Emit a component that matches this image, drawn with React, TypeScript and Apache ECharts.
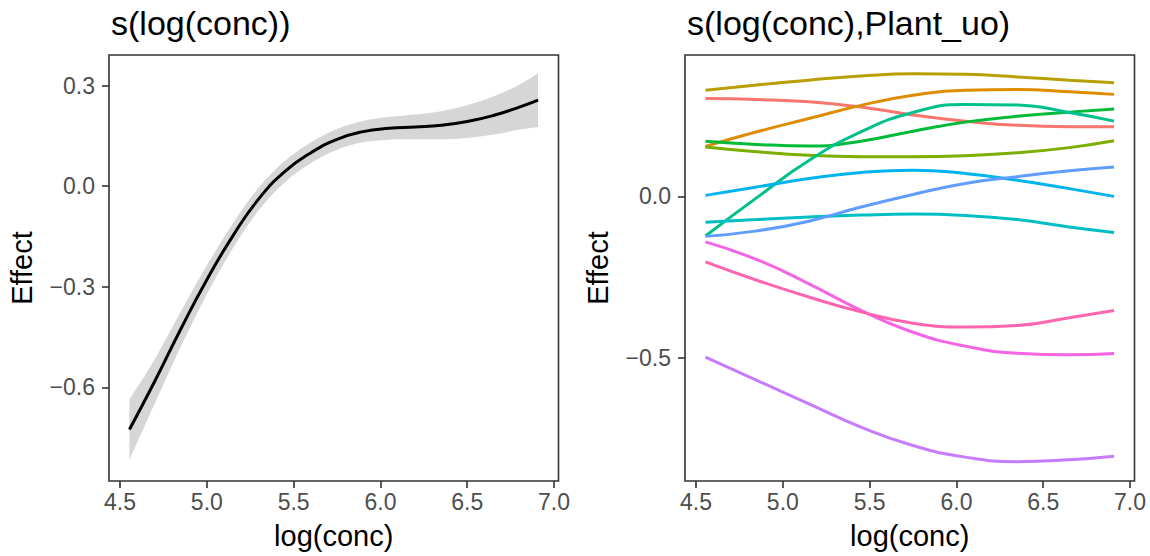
import React, { useEffect, useRef } from "react";
import * as echarts from "echarts";

// ---------- Data ----------
const panelTitles = ["s(log(conc))", "s(log(conc),Plant_uo)"];
const xTicks = [4.5, 5.0, 5.5, 6.0, 6.5, 7.0];
const yTicksLeft = [-0.6, -0.3, 0.0, 0.3];
const yTicksRight = [-0.5, 0.0];

// left panel: overall smooth with confidence band
const logConcGrid = [4.554, 4.7, 4.85, 5.0, 5.15, 5.3, 5.45, 5.6, 5.75, 5.9, 6.05, 6.2, 6.35, 6.5, 6.65, 6.8, 6.908];
const fitValues = [-0.726, -0.582, -0.426, -0.279, -0.148, -0.037, 0.044, 0.1, 0.14, 0.163, 0.173, 0.177, 0.182, 0.193, 0.211, 0.236, 0.257];
const lowerValues = [-0.816, -0.648, -0.478, -0.322, -0.185, -0.071, 0.012, 0.069, 0.109, 0.131, 0.139, 0.14, 0.14, 0.144, 0.154, 0.169, 0.177];
const upperValues = [-0.636, -0.516, -0.374, -0.236, -0.111, -0.003, 0.076, 0.131, 0.171, 0.195, 0.207, 0.214, 0.224, 0.242, 0.268, 0.303, 0.337];

// right panel: per-plant smooths
const plantGrid = [4.554, 4.85, 5.15, 5.45, 5.75, 6.05, 6.35, 6.65, 6.908];
const plantNames = ["Qn1", "Qn2", "Qn3", "Qc1", "Qc3", "Qc2", "Mn3", "Mn2", "Mn1", "Mc2", "Mc3", "Mc1"];
const plantColors = ["#F8766D", "#DE8C00", "#B79F00", "#7CAE00", "#00BA38", "#00C08B", "#00BFC4", "#00B4F0", "#619CFF", "#C77CFF", "#F564E3", "#FF64B0"];
const plant0 = [0.303, 0.3, 0.293, 0.277, 0.252, 0.233, 0.22, 0.216, 0.216];
const plant1 = [0.155, 0.2, 0.241, 0.282, 0.313, 0.329, 0.331, 0.324, 0.316];
const plant2 = [0.329, 0.345, 0.36, 0.373, 0.38, 0.378, 0.37, 0.36, 0.352];
const plant3 = [0.153, 0.138, 0.127, 0.123, 0.123, 0.126, 0.135, 0.151, 0.172];
const plant4 = [0.171, 0.161, 0.156, 0.171, 0.202, 0.23, 0.248, 0.261, 0.271];
const plant5 = [-0.123, -0.004, 0.111, 0.2, 0.26, 0.285, 0.283, 0.26, 0.233];
const plant6 = [-0.08, -0.072, -0.064, -0.058, -0.055, -0.059, -0.072, -0.095, -0.112];
const plant7 = [0.003, 0.029, 0.055, 0.074, 0.081, 0.071, 0.05, 0.024, 0.0];
const plant8 = [-0.124, -0.107, -0.077, -0.033, 0.006, 0.04, 0.061, 0.079, 0.091];
const plant9 = [-0.498, -0.57, -0.643, -0.715, -0.772, -0.808, -0.822, -0.816, -0.805];
const plant10 = [-0.141, -0.196, -0.271, -0.353, -0.421, -0.464, -0.486, -0.491, -0.487];
const plant11 = [-0.203, -0.26, -0.312, -0.358, -0.393, -0.405, -0.4, -0.376, -0.354];
const plantValues = [plant0, plant1, plant2, plant3, plant4, plant5, plant6, plant7, plant8, plant9, plant10, plant11];

const FONT = "'Liberation Sans', Arial, Helvetica, sans-serif";

const fmt = (v: number) => (v < 0 ? "\u2212" : "") + Math.abs(v).toFixed(1);

function makeXAxis(gridIndex: number) {
  return {
    type: "value",
    gridIndex,
    min: 4.4363,
    max: 7.0257,
    axisLine: { show: false, onZero: false },
    splitLine: { show: false },
    axisTick: { show: true, customValues: xTicks, length: 7, lineStyle: { color: "#333333", width: 1.6 } },
    axisLabel: { customValues: xTicks, formatter: fmt, fontSize: 23, color: "#4D4D4D", margin: 9, fontFamily: FONT },
    name: "log(conc)",
    nameLocation: "middle",
    nameGap: 40,
    nameTextStyle: { fontSize: 29, color: "#000000", fontFamily: FONT },
  };
}

function makeYAxis(gridIndex: number, min: number, max: number, ticks: number[]) {
  return {
    type: "value",
    gridIndex,
    min,
    max,
    axisLine: { show: false, onZero: false },
    splitLine: { show: false },
    axisTick: { show: true, customValues: ticks, length: 7, lineStyle: { color: "#333333", width: 1.6 } },
    axisLabel: { customValues: ticks, formatter: fmt, fontSize: 23, color: "#4D4D4D", margin: 14, fontFamily: FONT },
    name: "Effect",
    nameLocation: "middle",
    nameRotate: 90,
    nameGap: 73,
    nameTextStyle: { fontSize: 29, color: "#000000", fontFamily: FONT },
  };
}

// Catmull-Rom style smooth path segment builder (drawing only)
function smoothSegments(pts: number[][]): string {
  let d = "";
  for (let i = 0; i < pts.length - 1; i++) {
    const p0 = pts[Math.max(0, i - 1)];
    const p1 = pts[i];
    const p2 = pts[i + 1];
    const p3 = pts[Math.min(pts.length - 1, i + 2)];
    const c1x = p1[0] + (p2[0] - p0[0]) / 6;
    const c1y = p1[1] + (p2[1] - p0[1]) / 6;
    const c2x = p2[0] - (p3[0] - p1[0]) / 6;
    const c2y = p2[1] - (p3[1] - p1[1]) / 6;
    d += ` C ${c1x} ${c1y} ${c2x} ${c2y} ${p2[0]} ${p2[1]}`;
  }
  return d;
}

export default function App() {
  const ref = useRef<HTMLDivElement>(null);

  useEffect(() => {
    if (!ref.current) return;
    const chart = echarts.init(ref.current, undefined, { renderer: "svg" });

    const pairs = (xs: number[], ys: number[]) => xs.map((x, i) => [x, ys[i]]);

    const series: any[] = [
      {
        type: "custom",
        name: "band",
        xAxisIndex: 0,
        yAxisIndex: 0,
        silent: true,
        clip: true,
        data: [[logConcGrid[0], lowerValues[0]]],
        renderItem: (_params: any, api: any) => {
          const up = logConcGrid.map((x, i) => api.coord([x, upperValues[i]]));
          const lo = logConcGrid.map((x, i) => api.coord([x, lowerValues[i]])).reverse();
          let d = `M ${up[0][0]} ${up[0][1]}` + smoothSegments(up);
          d += ` L ${lo[0][0]} ${lo[0][1]}` + smoothSegments(lo) + " Z";
          return { type: "path", shape: { pathData: d }, style: { fill: "#D6D6D6", stroke: "none" } };
        },
      },
      {
        type: "line",
        name: "fit",
        xAxisIndex: 0,
        yAxisIndex: 0,
        data: pairs(logConcGrid, fitValues),
        smooth: true,
        showSymbol: false,
        lineStyle: { width: 3, color: "#000000" },
        itemStyle: { color: "#000000" },
        z: 3,
      },
    ];

    plantValues.forEach((vals, i) => {
      series.push({
        type: "line",
        name: plantNames[i],
        xAxisIndex: 1,
        yAxisIndex: 1,
        data: pairs(plantGrid, vals),
        smooth: true,
        showSymbol: false,
        lineStyle: { width: 3, color: plantColors[i] },
        itemStyle: { color: plantColors[i] },
      });
    });

    chart.setOption({
      animation: false,
      backgroundColor: "#ffffff",
      textStyle: { fontFamily: FONT },
      title: [
        { text: panelTitles[0], left: 106, top: 1, textStyle: { fontSize: 34, fontWeight: "normal", color: "#000000", fontFamily: FONT } },
        { text: panelTitles[1], left: 682, top: 1, textStyle: { fontSize: 34, fontWeight: "normal", color: "#000000", fontFamily: FONT } },
      ],
      grid: [
        { left: 109, top: 55, width: 449.5, height: 426, show: true, borderColor: "#333333", borderWidth: 1.6, backgroundColor: "#ffffff", containLabel: false },
        { left: 685, top: 55, width: 449.5, height: 426, show: true, borderColor: "#333333", borderWidth: 1.6, backgroundColor: "#ffffff", containLabel: false },
      ],
      xAxis: [makeXAxis(0), makeXAxis(1)],
      yAxis: [makeYAxis(0, -0.8796, 0.3916, yTicksLeft), makeYAxis(1, -0.882, 0.438, yTicksRight)],
      series,
    });

    return () => chart.dispose();
  }, []);

  return <div ref={ref} style={{ position: "absolute", left: 0, top: 0, width: 1150, height: 556 }} />;
}
